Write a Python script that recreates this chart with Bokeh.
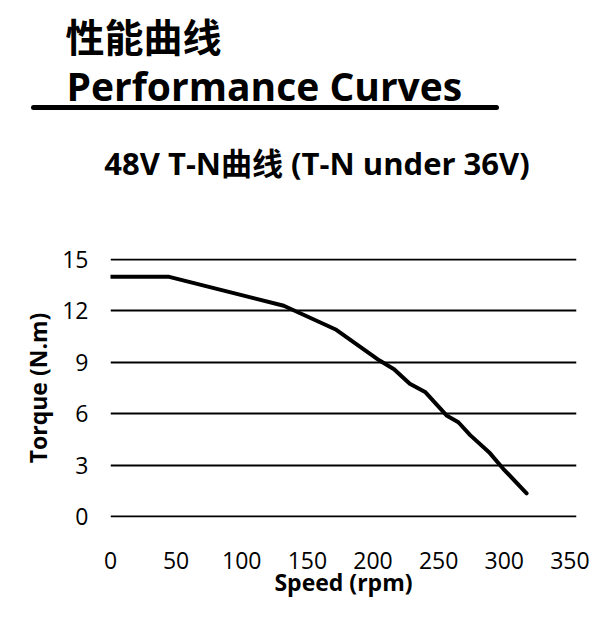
from bokeh.plotting import figure
from bokeh.layouts import column
from bokeh.models import FixedTicker, Range1d
from bokeh.core.properties import value
from bokeh.embed import file_html
from bokeh.resources import INLINE

# ---- data ----
speed = [0, 44, 132, 172, 205, 216, 228, 240, 256, 265, 274, 289, 299, 317]
torque = [14.0, 14.0, 12.3, 10.9, 9.1, 8.6, 7.75, 7.25, 5.9, 5.5, 4.75, 3.7, 2.8, 1.35]
x_ticks = [0, 50, 100, 150, 200, 250, 300, 350]
y_ticks = [0, 3, 6, 9, 12, 15]

heading_cn = "性能曲线"
heading_en = "Performance Curves"
subtitle = "48V T-N曲线 (T-N under 36V)"
x_title = "Speed (rpm)"
y_title = "Torque (N.m)"

FONT = "'Open Sans', 'Noto Sans CJK SC', sans-serif"
W = 616
HEAD_H = 230
CHART_H = 400

# ---- header figure (pixel-like coordinates, y downward) ----
h = figure(width=W, height=HEAD_H, output_backend="svg", toolbar_location=None,
           x_range=Range1d(0, W), y_range=Range1d(HEAD_H, 0),
           x_axis_type=None, y_axis_type=None, min_border=0)
h.frame_align = False
h.outline_line_color = None
h.xgrid.visible = False
h.ygrid.visible = False
h.text(x=[65], y=[36], text=[heading_cn], text_font=value(FONT), text_font_size="39px",
       text_font_style="bold", text_baseline="middle", text_align="left", text_color="black")
h.text(x=[66], y=[85], text=[heading_en], text_font=value(FONT), text_font_size="39px",
       text_font_style="bold", text_baseline="alphabetic", text_align="left", text_color="black")
h.segment(x0=[33], y0=[107], x1=[496], y1=[107], line_color="black", line_width=5,
          line_cap="round")
h.text(x=[316.5], y=[162], text=[subtitle], text_font=value(FONT), text_font_size="31px",
       text_font_style="bold", text_baseline="alphabetic", text_align="center", text_color="black")

# ---- chart figure ----
p = figure(width=W, height=CHART_H, output_backend="svg", toolbar_location=None,
           x_range=Range1d(0, 355), y_range=Range1d(-0.06, 15.06),
           min_border_left=110, min_border_right=40,
           min_border_top=28, min_border_bottom=113)
p.frame_align = False
p.outline_line_color = None

p.line(speed, torque, line_color="black", line_width=4, line_join="round", line_cap="round")

p.xaxis.ticker = FixedTicker(ticks=x_ticks)
p.yaxis.ticker = FixedTicker(ticks=y_ticks)
for ax in (p.xaxis[0], p.yaxis[0]):
    ax.axis_line_color = None
    ax.major_tick_line_color = None
    ax.minor_tick_line_color = None
    ax.major_tick_out = 0
    ax.major_tick_in = 0
    ax.major_label_text_font = FONT
    ax.major_label_text_font_size = "23px"
    ax.major_label_text_color = "black"
    ax.axis_label_text_font = FONT
    ax.axis_label_text_font_size = "23px"
    ax.axis_label_text_font_style = "bold"
    ax.axis_label_text_color = "black"

p.xaxis.axis_label = x_title
p.yaxis.axis_label = y_title
p.xaxis.major_label_standoff = 34
p.xaxis.axis_label_standoff = -6
p.yaxis.major_label_standoff = 22
p.yaxis.axis_label_standoff = 5

p.xgrid.grid_line_color = None
p.ygrid.ticker = FixedTicker(ticks=y_ticks)
p.ygrid.grid_line_color = "black"
p.ygrid.grid_line_width = 1.8

layout = column(h, p, spacing=0)
open("out.html", "w").write(file_html(layout, INLINE))
